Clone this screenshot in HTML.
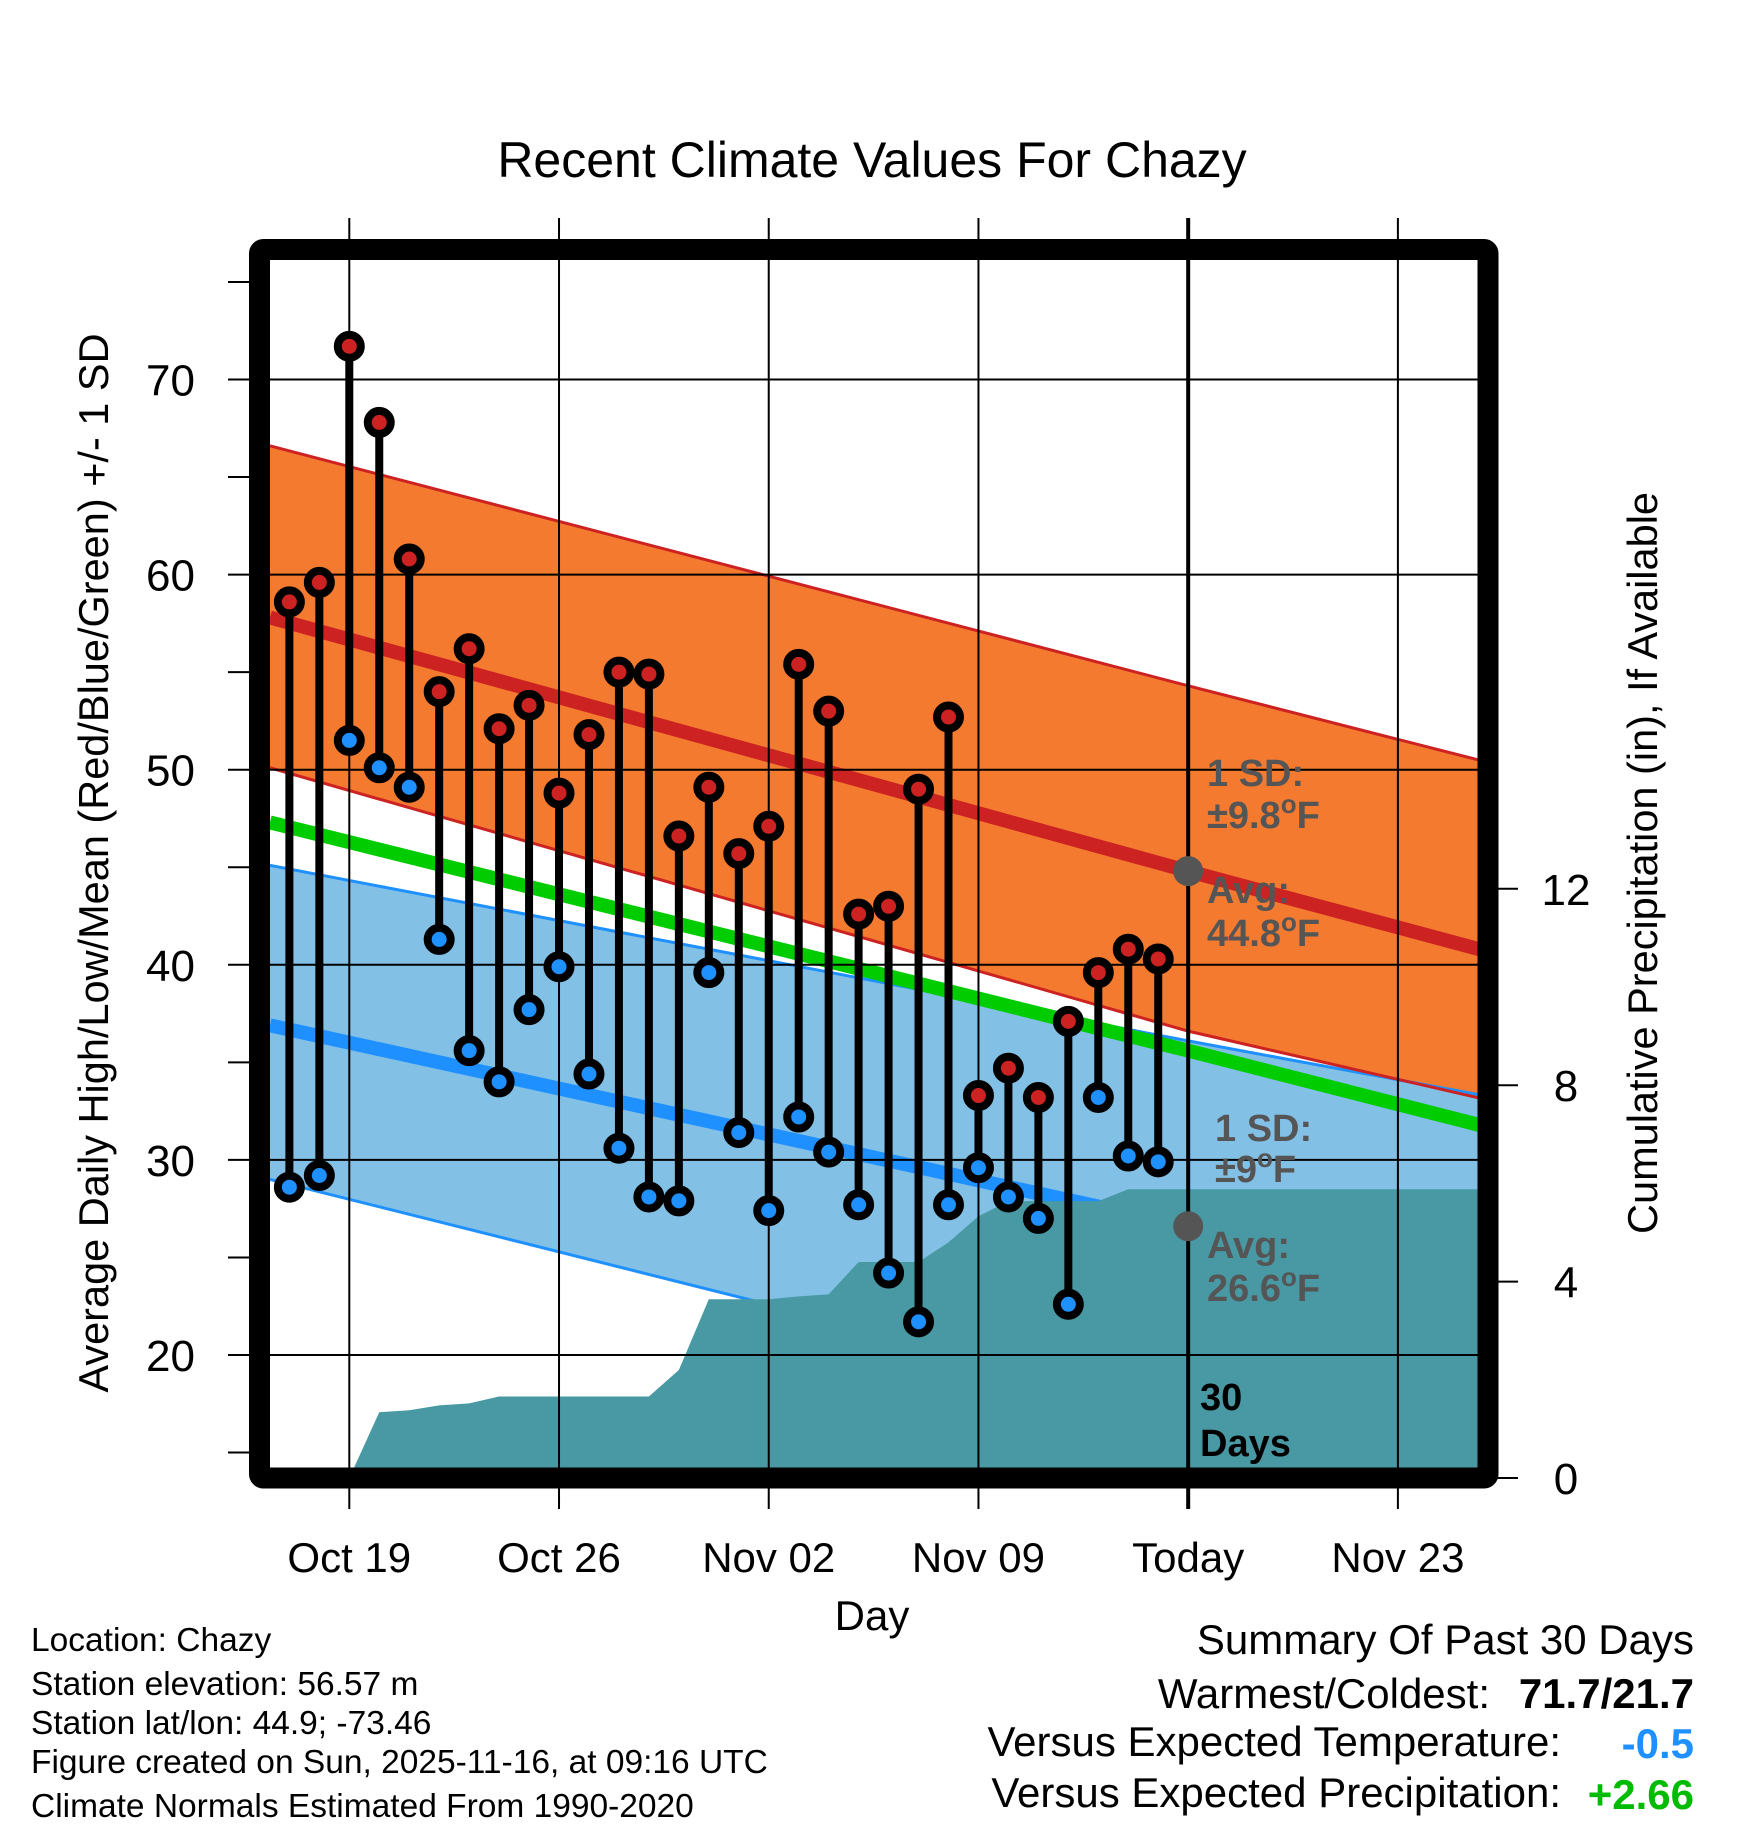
<!DOCTYPE html>
<html><head><meta charset="utf-8"><style>
html,body{margin:0;padding:0;background:#fff;}
svg{display:block;font-family:"Liberation Sans",Arial,sans-serif;}
</style></head><body>
<svg id="chart" width="1748" height="1828" viewBox="0 0 1748 1828" xmlns="http://www.w3.org/2000/svg">
<text x="872" y="177" font-size="50" text-anchor="middle">Recent Climate Values For Chazy</text>
<g id="plot"></g>
<text x="872" y="1630" font-size="42" text-anchor="middle">Day</text>
<text transform="translate(108,863) rotate(-90)" font-size="41.5" text-anchor="middle">Average Daily High/Low/Mean (Red/Blue/Green) +/- 1 SD</text>
<text transform="translate(1657,863) rotate(-90)" font-size="41.5" text-anchor="middle">Cumulative Precipitation (in), If Available</text>
<g font-size="33.5">
<text x="31" y="1651">Location: Chazy</text>
<text x="31" y="1695">Station elevation: 56.57 m</text>
<text x="31" y="1734">Station lat/lon: 44.9; -73.46</text>
<text x="31" y="1773">Figure created on Sun, 2025-11-16, at 09:16 UTC</text>
<text x="31" y="1817">Climate Normals Estimated From 1990-2020</text>
</g>
<g font-size="42">
<text x="1694" y="1654" text-anchor="end">Summary Of Past 30 Days</text>
<text x="1490" y="1708" text-anchor="end">Warmest/Coldest:</text>
<text x="1694" y="1708" text-anchor="end" font-weight="bold">71.7/21.7</text>
<text x="1561" y="1756" text-anchor="end">Versus Expected Temperature:</text>
<text x="1694" y="1758" text-anchor="end" font-weight="bold" fill="#1e90ff">-0.5</text>
<text x="1561" y="1807" text-anchor="end">Versus Expected Precipitation:</text>
<text x="1694" y="1809" text-anchor="end" font-weight="bold" fill="#00bb00">+2.66</text>
</g>
</svg>
<script>
// day index 0 = Oct 17
const highs=[58.6,59.6,71.7,67.8,60.8,54.0,56.2,52.1,53.3,48.8,51.8,55.0,54.9,46.6,49.1,45.7,47.1,55.4,53.0,42.6,43.0,49.0,52.7,33.3,34.7,33.2,37.1,39.6,40.8,40.3];
const lows=[28.6,29.2,51.5,50.1,49.1,41.3,35.6,34.0,37.7,39.9,34.4,30.6,28.1,27.9,39.6,31.4,27.4,32.2,30.4,27.7,24.2,21.7,27.7,29.6,28.1,27.0,22.6,33.2,30.2,29.9];
const precipDays=[2,3,4,5,6,7,8,9,10,11,12,13,14,15,16,17,18,19,20,21,22,23,24,25,26,27,28,29];
const precip=[0,1.34,1.38,1.48,1.52,1.66,1.66,1.66,1.66,1.66,1.66,2.2,3.64,3.64,3.64,3.7,3.74,4.4,4.4,4.4,4.8,5.33,5.64,5.64,5.64,5.64,5.88,5.88];
const normDays=[-0.65,30,40.2];
const normHigh=[57.8,44.8,40.6];
const normHighUp=[66.6,54.3,50.3];
const normHighLo=[50.1,36.6,33.0];
const normMean=[47.3,35.6,31.6];
const normLow=[36.9,26.6,23.8];
const normLowUp=[45.1,36.1,33.2];
const normLowLo=[29.0,17.2,14.0];
const xTickDays=[2,9,16,23,30,37];
const xTickLabels=["Oct 19","Oct 26","Nov 02","Nov 09","Today","Nov 23"];
const yTicks=[20,30,40,50,60,70];
const yMinor=[15,25,35,45,55,65,75];
const y2Ticks=[0,4,8,12];

const X=d=>349.3+(d-2)*29.96;
const Y=v=>379.5+(70-v)*19.51;
const P=p=>1478-p*49.1;
const L=270,R=1478,T=260,B=1468;
const NS="http://www.w3.org/2000/svg";
const g=document.getElementById('plot');
function mk(tag,attrs,parent){const e=document.createElementNS(NS,tag);for(const k in attrs)e.setAttribute(k,attrs[k]);(parent||g).appendChild(e);return e;}
function pts(arr){return normDays.map((d,i)=>X(d)+','+Y(arr[i])).join(' ');}
function rpts(arr){return normDays.map((d,i)=>X(d)+','+Y(arr[i])).reverse().join(' ');}

const cp=mk('clipPath',{id:'inner'});mk('rect',{x:L,y:T,width:R-L,height:B-T},cp);
const inner=mk('g',{'clip-path':'url(#inner)'});

let e;
e=mk('polygon',{points:pts(normLowUp)+' '+rpts(normLowLo),fill:'#82c0e6'},inner);


e=mk('polygon',{points:pts(normHighUp)+' '+rpts(normHighLo),fill:'#f47a2f'},inner);


[[normLowUp,'#1e90ff'],[normLowLo,'#1e90ff'],[normHighUp,'#cc2222'],[normHighLo,'#cc2222']].forEach(([a,c])=>{
 e=mk('polyline',{points:pts(a),fill:'none',stroke:c,'stroke-width':3},inner);
 
 
});
yTicks.forEach(v=>{e=mk('line',{x1:228,x2:R,y1:Y(v),y2:Y(v),stroke:'#000','stroke-width':2});
 
 });
xTickDays.forEach((d,i)=>{if(xTickLabels[i]==='Today')return;
 e=mk('line',{x1:X(d),x2:X(d),y1:218,y2:1509,stroke:'#000','stroke-width':2});
 
 });
e=mk('polyline',{points:pts(normMean),fill:'none',stroke:'#00cc00','stroke-width':14},inner);


e=mk('polyline',{points:pts(normHigh),fill:'none',stroke:'#cc2222','stroke-width':14},inner);


e=mk('polyline',{points:pts(normLow),fill:'none',stroke:'#1e90ff','stroke-width':14},inner);


let pp=precipDays.map((d,i)=>X(d)+','+P(precip[i]));
const last=precip[precip.length-1];
pp.push((R+5)+','+P(last));pp.push((R+5)+','+P(0));pp.push(X(precipDays[0])+','+P(0));
e=mk('polygon',{points:pp.join(' '),fill:'#4899a3'},inner);


e=mk('line',{x1:X(30),x2:X(30),y1:218,y2:1509,stroke:'#000','stroke-width':4});


highs.forEach((h,i)=>{
 e=mk('line',{x1:X(i),x2:X(i),y1:Y(h),y2:Y(lows[i]),stroke:'#000','stroke-width':8});
 
 
});
highs.forEach((h,i)=>{
 e=mk('circle',{cx:X(i),cy:Y(h),r:11.5,fill:'#cc2222',stroke:'#000','stroke-width':8});
 
 
 e=mk('circle',{cx:X(i),cy:Y(lows[i]),r:11.5,fill:'#1e90ff',stroke:'#000','stroke-width':8});
 
 
});
[normHigh[1],normLow[1]].forEach(v=>{e=mk('circle',{cx:X(30),cy:Y(v),r:15,fill:'#555'});
 
 });
function txt(s,x,y,sz,col,name){const t=mk('text',{x:x,y:y,'font-size':sz,'font-weight':'bold',fill:col});t.innerHTML=s;
 
 return t;}
const sup='<tspan font-size="26" dy="-15">o</tspan><tspan dy="15">F</tspan>';
txt('1 SD:',1207,786,38,'#555','high-sd-label');
txt('±9.8'+sup,1207,828,38,'#555','high-sd-value');
txt('Avg:',1207,903,38,'#555','high-avg-label');
txt('44.8'+sup,1207,946,38,'#555','high-avg-value');
txt('1 SD:',1215,1141,38,'#555','low-sd-label');
txt('±9'+sup,1215,1182,38,'#555','low-sd-value');
txt('Avg:',1207,1258,38,'#555','low-avg-label');
txt('26.6'+sup,1207,1301,38,'#555','low-avg-value');
txt('30',1200,1410,38,'#000','days-count');
txt('Days',1200,1456,38,'#000','days-label');
yTicks.forEach(v=>{const t=mk('text',{x:195,y:Y(v)+16,'font-size':44,'text-anchor':'end'});t.textContent=v;
 
 });
yMinor.forEach(v=>{e=mk('line',{x1:228,x2:250,y1:Y(v),y2:Y(v),stroke:'#000','stroke-width':2});
 
 });
y2Ticks.forEach(v=>{e=mk('line',{x1:1495,x2:1518,y1:P(v),y2:P(v),stroke:'#000','stroke-width':2});
 
 
 const t=mk('text',{x:1566,y:P(v)+16,'font-size':44,'text-anchor':'middle'});t.textContent=v;
 
 });
xTickDays.forEach((d,i)=>{const t=mk('text',{x:X(d),y:1572,'font-size':42,'text-anchor':'middle'});t.textContent=xTickLabels[i];
 
 });
e=mk('rect',{x:259.5,y:249.5,width:1228.5,height:1228.5,fill:'none',stroke:'#000','stroke-width':21,rx:4});


</script>
</body></html>
